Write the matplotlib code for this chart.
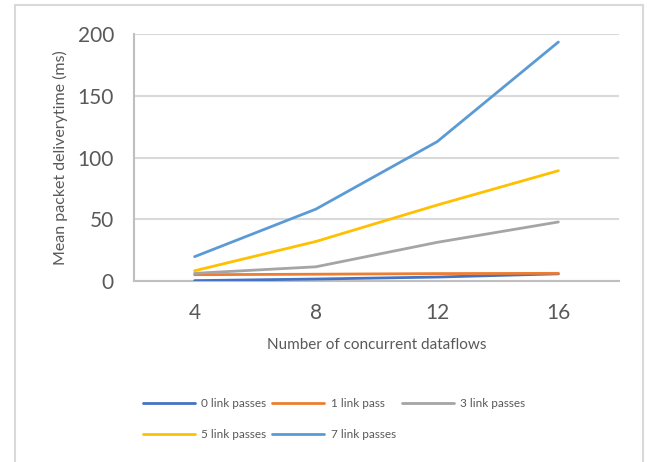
import matplotlib
matplotlib.use("Agg")
import matplotlib.pyplot as plt
from matplotlib.patches import Rectangle

plt.rcParams['font.family'] = ['Lato', 'DejaVu Sans']

# Number of concurrent dataflows (categorical x axis)
dataflows = ["4", "8", "12", "16"]

# Mean packet delivery time (ms) per number of link passes
link0 = [0.3, 1.6, 3.2, 5.8]
link1 = [5.1, 5.5, 6.0, 6.2]
link3 = [6.2, 11.5, 31.3, 47.8]
link5 = [8.3, 32.0, 61.5, 89.3]
link7 = [19.7, 58.2, 112.8, 193.5]

series_names = ["0 link passes", "1 link pass", "3 link passes",
                "5 link passes", "7 link passes"]
series_values = [link0, link1, link3, link5, link7]
series_colors = ["#4472C4", "#ED7D31", "#A5A5A5", "#FFC000", "#5B9BD5"]

text_grey = "#595959"
grid_grey = "#D9D9D9"

W, H = 647, 462
fig = plt.figure(figsize=(W / 100, H / 100), dpi=100)
fig.patch.set_facecolor("white")

# Chart-area frame
fig.add_artist(Rectangle((15 / W, -0.05), (643 - 15) / W, 1.05 - 5 / H,
                         transform=fig.transFigure, fill=False,
                         edgecolor=grid_grey, linewidth=1.5, clip_on=False))

ax = fig.add_axes([134 / W, 1 - 281 / H, (619 - 134) / W, (281 - 34) / H])

xpos = list(range(len(dataflows)))
handles = []
for name, vals, col in zip(series_names, series_values, series_colors):
    h, = ax.plot(xpos, vals, color=col, linewidth=2, label=name,
                 solid_capstyle="round", zorder=3)
    handles.append(h)

ax.set_xlim(-0.5, len(dataflows) - 0.5)
ax.set_ylim(0, 200)
ax.set_yticks([0, 50, 100, 150, 200])
ax.set_xticks(xpos)
ax.set_xticklabels(dataflows)

ax.yaxis.grid(True, color=grid_grey, linewidth=1.5, zorder=0)
ax.set_axisbelow(True)
for side in ["top", "right"]:
    ax.spines[side].set_visible(False)
for side in ["left", "bottom"]:
    ax.spines[side].set_color("#BFBFBF")
    ax.spines[side].set_linewidth(1.5)

ax.tick_params(axis="both", length=0, labelsize=15, colors=text_grey)
ax.tick_params(axis="y", pad=14.4)
ax.tick_params(axis="x", pad=16)

# Axis titles
fig.text(377 / W, 1 - 345 / H, "Number of concurrent dataflows",
         fontsize=11, color=text_grey, ha="center", va="center")
fig.text(60 / W, 1 - 158 / H, "Mean packet deliverytime (ms)",
         fontsize=11.5, color=text_grey, ha="center", va="center", rotation=90)

# Legend laid out in rows: 0,1,3 on the first row; 5,7 on the second
order = [0, 3, 1, 4, 2]
leg = fig.legend([handles[i] for i in order], [series_names[i] for i in order],
                 ncol=3, loc="upper left", bbox_to_anchor=(138 / W, 1 - 393 / H),
                 frameon=False, fontsize=8.5, handlelength=4.4, handletextpad=0.55,
                 columnspacing=0.5, labelspacing=1.75, borderaxespad=0)
for t in leg.get_texts():
    t.set_color(text_grey)

fig.savefig("out.png", dpi=100, facecolor="white")
